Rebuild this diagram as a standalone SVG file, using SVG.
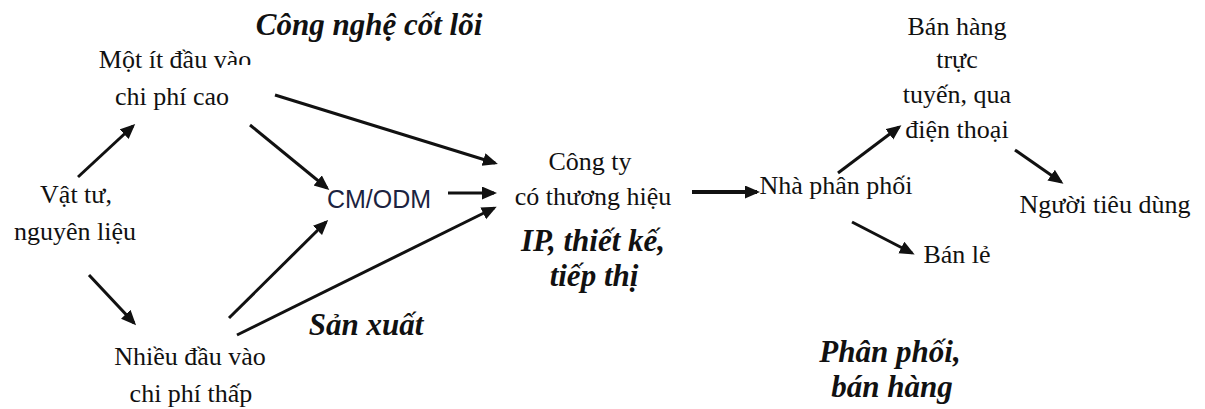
<svg xmlns="http://www.w3.org/2000/svg" width="1205" height="409" viewBox="0 0 1205 409">
<style>
.t{font-family:"Liberation Serif","Times New Roman",serif;font-size:26px;fill:#111;text-anchor:middle}
.b{font-family:"Liberation Serif","Times New Roman",serif;font-size:31px;font-weight:bold;font-style:italic;fill:#111;text-anchor:middle}
.s{font-family:"Liberation Sans",Arial,sans-serif;font-size:25px;fill:#1c2340;text-anchor:middle}
.c line{stroke:#111;stroke-width:3;marker-end:url(#ah)}
</style>
<defs>
<marker id="ah" markerUnits="userSpaceOnUse" markerWidth="16" markerHeight="14" refX="12" refY="6.5" orient="auto">
<path d="M0,0 L15,6.5 L0,13 Z" fill="#111"/>
</marker>
<clipPath id="clipTop"><polygon points="0,0 1205,0 1205,65 222,65 222,80 0,80"/></clipPath>
</defs>
<rect width="1205" height="409" fill="#fff"/>
<g id="lbl-core"><text class="b" x="369" y="35">Công nghệ cốt lõi</text></g>
<g id="n-high"><text class="t" x="175" y="68" clip-path="url(#clipTop)">Một ít đầu vào</text><text class="t" x="172" y="105">chi phí cao</text></g>
<g id="n-raw"><text class="t" x="76" y="203">Vật tư,</text><text class="t" x="75" y="240">nguyên liệu</text></g>
<g id="n-cm"><text class="s" x="379" y="208">CM/ODM</text></g>
<g id="n-low"><text class="t" x="190" y="365">Nhiều đầu vào</text><text class="t" x="191" y="402">chi phí thấp</text></g>
<g id="lbl-prod"><text class="b" x="366" y="335">Sản xuất</text></g>
<g id="n-brand"><text class="t" x="590" y="170">Công ty</text><text class="t" x="593" y="205">có thương hiệu</text></g>
<g id="lbl-ip"><text class="b" x="593" y="251">IP, thiết kế,</text><text class="b" x="594" y="286">tiếp thị</text></g>
<g id="n-dist"><text class="t" x="836" y="194">Nhà phân phối</text></g>
<g id="n-online"><text class="t" x="957" y="35">Bán hàng</text><text class="t" x="957" y="68">trực</text><text class="t" x="957" y="103">tuyến, qua</text><text class="t" x="957" y="138">điện thoại</text></g>
<g id="n-consumer"><text class="t" x="1105" y="213">Người tiêu dùng</text></g>
<g id="n-retail"><text class="t" x="957" y="263">Bán lẻ</text></g>
<g id="lbl-dist"><text class="b" x="890" y="362">Phân phối,</text><text class="b" x="892" y="397">bán hàng</text></g>
<g id="connectors" class="c">
<line x1="78" y1="177" x2="133" y2="126"/>
<line x1="250" y1="125" x2="327" y2="188"/>
<line x1="275" y1="95" x2="495" y2="163"/>
<line x1="448" y1="193" x2="494" y2="193"/>
<line x1="89" y1="275" x2="134" y2="323"/>
<line x1="229" y1="318" x2="326" y2="222"/>
<line x1="237" y1="335" x2="494" y2="208"/>
<line x1="692" y1="192" x2="757" y2="192" style="stroke-width:4"/>
<line x1="838" y1="173" x2="899" y2="127"/>
<line x1="1015" y1="150" x2="1061" y2="182"/>
<line x1="852" y1="222" x2="912" y2="253"/>
</g>
</svg>
